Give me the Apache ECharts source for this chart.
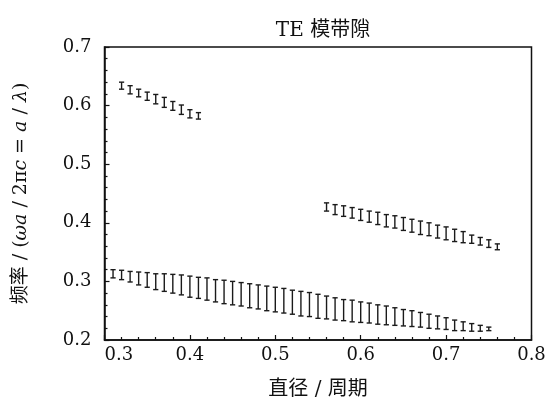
<!DOCTYPE html>
<html>
<head>
<meta charset="utf-8">
<script src="https://cdn.jsdelivr.net/npm/echarts@6/dist/echarts.min.js"></script>
<style>
  html, body { margin: 0; padding: 0; background: #fff; }
  #chart { width: 549px; height: 405px; }
</style>
</head>
<body>
<div id="chart"></div>
<script>
// 带隙数据: 直径/周期 -> 频率下限/上限
var x1 = [0.32, 0.33, 0.34, 0.35, 0.36, 0.37, 0.38, 0.39, 0.40, 0.41];
var hi1 = [0.640, 0.634, 0.628, 0.623, 0.619, 0.614, 0.607, 0.601, 0.593, 0.588];
var lo1 = [0.628, 0.620, 0.615, 0.609, 0.603, 0.597, 0.592, 0.585, 0.579, 0.577];

var x2 = [0.56, 0.57, 0.58, 0.59, 0.60, 0.61, 0.62, 0.63, 0.64, 0.65, 0.66,
          0.67, 0.68, 0.69, 0.70, 0.71, 0.72, 0.73, 0.74, 0.75, 0.76];
var hi2 = [0.434, 0.431, 0.429, 0.426, 0.423, 0.420, 0.418, 0.414, 0.412, 0.409, 0.406,
           0.403, 0.400, 0.396, 0.393, 0.389, 0.385, 0.379, 0.375, 0.371, 0.364];
var lo2 = [0.420, 0.414, 0.411, 0.408, 0.404, 0.401, 0.397, 0.393, 0.391, 0.387, 0.384,
           0.380, 0.378, 0.374, 0.371, 0.368, 0.366, 0.365, 0.362, 0.358, 0.354];

var x3 = [0.31, 0.32, 0.33, 0.34, 0.35, 0.36, 0.37, 0.38, 0.39, 0.40, 0.41, 0.42, 0.43,
          0.44, 0.45, 0.46, 0.47, 0.48, 0.49, 0.50, 0.51, 0.52, 0.53, 0.54, 0.55, 0.56,
          0.57, 0.58, 0.59, 0.60, 0.61, 0.62, 0.63, 0.64, 0.65, 0.66, 0.67, 0.68, 0.69,
          0.70, 0.71, 0.72, 0.73, 0.74, 0.75];
var hi3 = [0.320, 0.319, 0.317, 0.316, 0.315, 0.313, 0.313, 0.312, 0.311, 0.309, 0.307, 0.306, 0.303,
           0.302, 0.300, 0.298, 0.296, 0.294, 0.292, 0.290, 0.288, 0.285, 0.283, 0.281, 0.278, 0.275,
           0.272, 0.269, 0.268, 0.265, 0.263, 0.260, 0.258, 0.255, 0.252, 0.250, 0.247, 0.244, 0.241,
           0.238, 0.234, 0.231, 0.228, 0.225, 0.222];
var lo3 = [0.306, 0.303, 0.299, 0.294, 0.290, 0.286, 0.283, 0.280, 0.277, 0.273, 0.271, 0.268, 0.265,
           0.262, 0.260, 0.258, 0.255, 0.253, 0.250, 0.248, 0.246, 0.244, 0.241, 0.240, 0.237, 0.236,
           0.234, 0.233, 0.231, 0.230, 0.229, 0.227, 0.226, 0.225, 0.224, 0.223, 0.222, 0.220, 0.219,
           0.218, 0.216, 0.216, 0.215, 0.215, 0.216];

var serif = '"DejaVu Serif", "Liberation Serif", "Noto Sans CJK SC", serif';
var cjk = '"DejaVu Serif", "Noto Sans CJK SC", serif';

function toData(xs, lo, hi) {
  var d = [];
  for (var i = 0; i < xs.length; i++) d.push([xs[i], lo[i], hi[i]]);
  return d;
}

// 工字形误差棒
function renderGap(params, api) {
  var x = api.value(0);
  var top = api.coord([x, api.value(2)]);
  var bot = api.coord([x, api.value(1)]);
  var w = 2.6;
  var st = { stroke: '#1a1a1a', lineWidth: 1.4 };
  return {
    type: 'group',
    children: [
      { type: 'line', shape: { x1: top[0], y1: top[1], x2: bot[0], y2: bot[1] }, style: st },
      { type: 'line', shape: { x1: top[0] - w, y1: top[1], x2: top[0] + w, y2: top[1] }, style: st },
      { type: 'line', shape: { x1: bot[0] - w, y1: bot[1], x2: bot[0] + w, y2: bot[1] }, style: st }
    ]
  };
}

var myChart = echarts.init(document.getElementById('chart'));

var option = {
  backgroundColor: '#fff',
  animation: false,
  title: {
    text: 'TE 模带隙',
    left: 318,
    textAlign: 'center',
    top: 16,
    textStyle: { fontFamily: cjk, fontSize: 20, fontWeight: 'normal', color: '#111' }
  },
  grid: {
    left: 104.5, right: 17.5, top: 47, bottom: 62,
    show: true, borderColor: '#111', borderWidth: 1.5, backgroundColor: 'transparent'
  },
  xAxis: {
    type: 'value',
    min: 0.3, max: 0.8, interval: 0.1,
    name: '直径 / 周期',
    nameLocation: 'middle',
    nameGap: 40,
    nameTextStyle: { fontFamily: cjk, fontSize: 20, color: '#111' },
    axisLine: { show: true, lineStyle: { color: '#111', width: 1.5 } },
    axisTick: { show: true, inside: true, length: 5, lineStyle: { color: '#111', width: 1.2 } },
    minorTick: { show: true, splitNumber: 5, length: 3, lineStyle: { color: '#111', width: 1.2 } },
    splitLine: { show: false },
    axisLabel: {
      fontFamily: serif, fontSize: 18, color: '#111', margin: 6,
      alignMinLabel: 'left',
      formatter: function (v) { return v.toFixed(1); }
    }
  },
  yAxis: {
    type: 'value',
    min: 0.2, max: 0.7, interval: 0.1,
    name: '频率 / ({i|ωa} / 2π{i|c} = {i|a} / {i|λ})',
    nameLocation: 'middle',
    nameGap: 74,
    nameRotate: 90,
    nameTextStyle: {
      fontFamily: cjk, fontSize: 19, color: '#111',
      rich: { i: { fontFamily: serif, fontStyle: 'italic', fontSize: 19, color: '#111' } }
    },
    axisLine: { show: true, lineStyle: { color: '#111', width: 1.5 } },
    axisTick: { show: true, inside: true, length: 5, lineStyle: { color: '#111', width: 1.2 } },
    minorTick: { show: true, splitNumber: 5, length: 3, lineStyle: { color: '#111', width: 1.2 } },
    splitLine: { show: false },
    axisLabel: {
      fontFamily: serif, fontSize: 18, color: '#111', margin: 13,
      formatter: function (v) { return v.toFixed(1); }
    }
  },
  series: [
    { type: 'custom', renderItem: renderGap, data: toData(x1, lo1, hi1), encode: { x: 0, y: [1, 2] } },
    { type: 'custom', renderItem: renderGap, data: toData(x2, lo2, hi2), encode: { x: 0, y: [1, 2] } },
    { type: 'custom', renderItem: renderGap, data: toData(x3, lo3, hi3), encode: { x: 0, y: [1, 2] } }
  ]
};

myChart.setOption(option);
</script>
</body>
</html>
